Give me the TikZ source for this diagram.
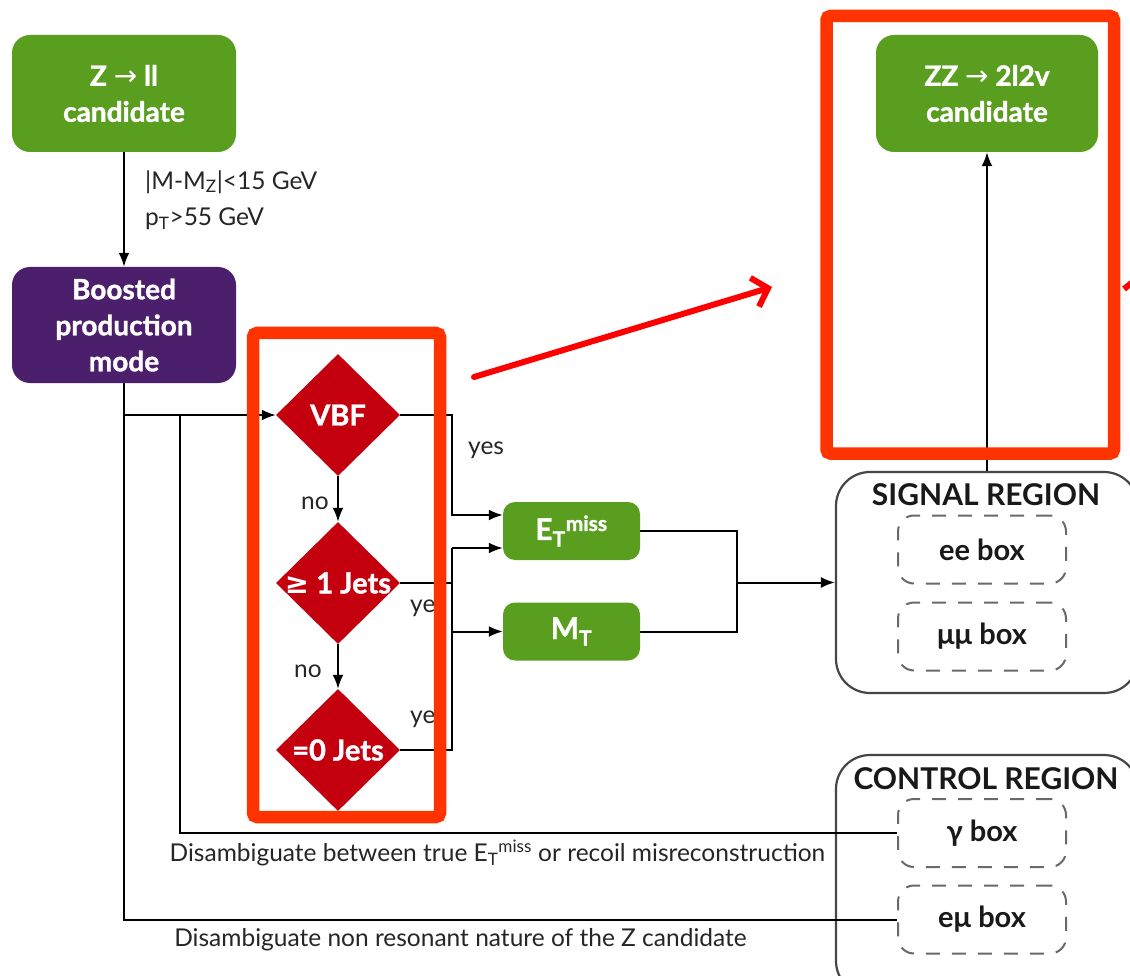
\documentclass[tikz,border=0pt]{standalone}
\usepackage{fontspec}
\setmainfont{Lato}
\newfontfamily\heavy{Lato}[FakeBold=1.3]
\newfontfamily\dejavu{DejaVu Sans}
\usetikzlibrary{shapes.geometric,arrows.meta}
\definecolor{boxgreen}{RGB}{90,158,32}
\definecolor{boxpurple}{RGB}{75,31,107}
\definecolor{dred}{RGB}{196,0,15}
\definecolor{framered}{RGB}{255,51,0}
\definecolor{arrred}{RGB}{255,0,0}
\definecolor{regiongray}{RGB}{70,70,70}
\definecolor{dashgray}{RGB}{105,105,105}
\tikzset{
  gbox/.style={fill=boxgreen, rounded corners=18pt, text=white, align=center, inner sep=0pt,
    font=\heavy\bfseries\fontsize{28}{36}\selectfont},
  pbox/.style={gbox, fill=boxpurple},
  sbox/.style={fill=boxgreen, rounded corners=12pt, text=white, inner sep=0pt,
    minimum width=137pt, minimum height=58pt, font=\heavy\bfseries\fontsize{30}{30}\selectfont},
  diam/.style={shape=diamond, fill=dred, minimum width=124pt, minimum height=122pt, inner sep=0pt},
  dtxt/.style={text=white, inner sep=0pt, font=\heavy\bfseries\fontsize{29}{30}\selectfont},
  region/.style={draw=regiongray, line width=2.2pt, rounded corners=34pt, inner sep=0pt},
  rtitle/.style={inner sep=0pt, text=black!90, font=\bfseries\fontsize{30}{30}\selectfont},
  dbox/.style={draw=dashgray, line width=2pt, dash pattern=on 14pt off 12pt, rounded corners=16pt,
    minimum width=168pt, minimum height=68pt, inner sep=0pt, text=black!90,
    font=\bfseries\fontsize{29}{30}\selectfont},
  lbl/.style={inner sep=0pt, text=black!85, font=\fontsize{24.5}{26}\selectfont},
  conn/.style={draw=black, line width=2pt},
  arr/.style={conn, -{Latex[length=14pt,width=11pt]}},
  frame/.style={draw=framered, line width=12.5pt, rounded corners=4pt, inner sep=0pt},
  redarr/.style={draw=arrred, line width=6pt, line cap=round, line join=round,
    -{Straight Barb[length=14pt,width=30pt,line width=6pt]}}
}
\begin{document}
\begin{tikzpicture}[x=1pt,y=-1pt]
\useasboundingbox (0,0) rectangle (1130,976);
\clip (0,0) rectangle (1130,976);
\fill[white] (0,0) rectangle (1130,976);

% boxes
\node[gbox, minimum width=224pt, minimum height=117pt] (zll) at (124,93.5)
  {Z {\dejavu\mdseries →} ll\\candidate};
\node[pbox, minimum width=224pt, minimum height=116pt] (boost) at (124,325)
  {Boosted\\production\\mode};
\node[gbox, minimum width=222pt, minimum height=117pt] (zz) at (987,93.5)
  {ZZ {\dejavu\mdseries →} 2l2v\\candidate};

% diamonds
\node[diam] (vbf) at (338,415) {};
\node[dtxt] (vbft) at (vbf) {VBF};
\node[diam] (j1) at (338,583) {};
\node[dtxt] (j1t) at (j1) {{\dejavu ≥} 1 Jets};
\node[diam] (j0) at (338,750) {};
\node[dtxt] (j0t) at (j0) {=0 Jets};

% small boxes
\node[sbox] (et) at (571.5,531) {E\textsubscript{T}\textsuperscript{miss}};
\node[sbox] (mt) at (571.5,631.5) {M\textsubscript{T}};

% regions
\node[region, minimum width=302pt, minimum height=221pt] (sig) at (987,582.5) {};
\node[rtitle] (sigt) at (986,495) {SIGNAL REGION};
\node[dbox] (ee) at (982,549.5) {ee box};
\node[dbox] (mumu) at (982,636.5) {μμ box};
\node[region, minimum width=302pt, minimum height=240pt] (ctrl) at (987,875) {};
\node[rtitle] (ctrlt) at (986,779) {CONTROL REGION};
\node[dbox] (gam) at (982,833) {γ box};
\node[dbox] (emu) at (982,919.5) {eμ box};

% labels
\node[lbl, anchor=west] (cut1) at (145,182) {|M-M\textsubscript{Z}|<15 GeV};
\node[lbl, anchor=west] (cut2) at (145,219) {p\textsubscript{T}>55 GeV};
\node[lbl, anchor=west] (yes1) at (468,450) {yes};
\node[lbl, anchor=west] (yes2) at (410,608) {ye};
\node[lbl, anchor=west] (yes3) at (410,719) {ye};
\node[lbl, anchor=east] (no1) at (329,503) {no};
\node[lbl, anchor=east] (no2) at (322,671) {no};
\node[lbl] (dis1) at (497.5,853) {Disambiguate between true E\textsubscript{T}\textsuperscript{miss} or recoil misreconstruction};
\node[lbl] (dis2) at (460.5,940) {Disambiguate non resonant nature of the Z candidate};

% connectors
\draw[arr] (zll.south) -- (boost.north);
\coordinate (b1) at (124,415);
\coordinate (b2) at (180,415);
\draw[conn] (boost.south) |- (emu.west);
\draw[arr] (b1) -- (vbf.west);
\draw[conn] (b2) |- (gam.west);
\draw[arr] (vbf.south) -- (j1.north);
\draw[arr] (j1.south) -- (j0.north);
\coordinate (v1) at (452,515);
\draw[arr] (vbf.east) -| (v1) -- (et.west |- v1);
\coordinate (jtop) at (452,548);
\draw[conn] (j0.east) -| (jtop);
\draw[conn] (j1.east) -- (j1.east -| jtop);
\draw[arr] (jtop) -- (et.west |- jtop);
\draw[arr] (jtop |- mt.west) -- (mt.west);
\coordinate (m) at (737,582.5);
\draw[conn] (et.east) -| (m);
\draw[conn] (mt.east) -| (m);
\draw[arr] (m) -- (sig.west |- m);
\draw[arr] (sig.north) -- (zz.south);

% red annotations
\node[frame, minimum width=187pt, minimum height=484pt] (fr1) at (346.5,575) {};
\node[frame, minimum width=287.5pt, minimum height=437.5pt] (fr2) at (970.25,234.75) {};
\coordinate (ra1) at (474,377);
\coordinate (ra2) at (772,287);
\draw[redarr] (ra1) -- (ra2);
\coordinate (rb1) at (1124,289);
\coordinate (rb2) at (1150,268);
\draw[draw=arrred, line width=6pt] (rb1) -- (rb2);
\end{tikzpicture}
\end{document}
